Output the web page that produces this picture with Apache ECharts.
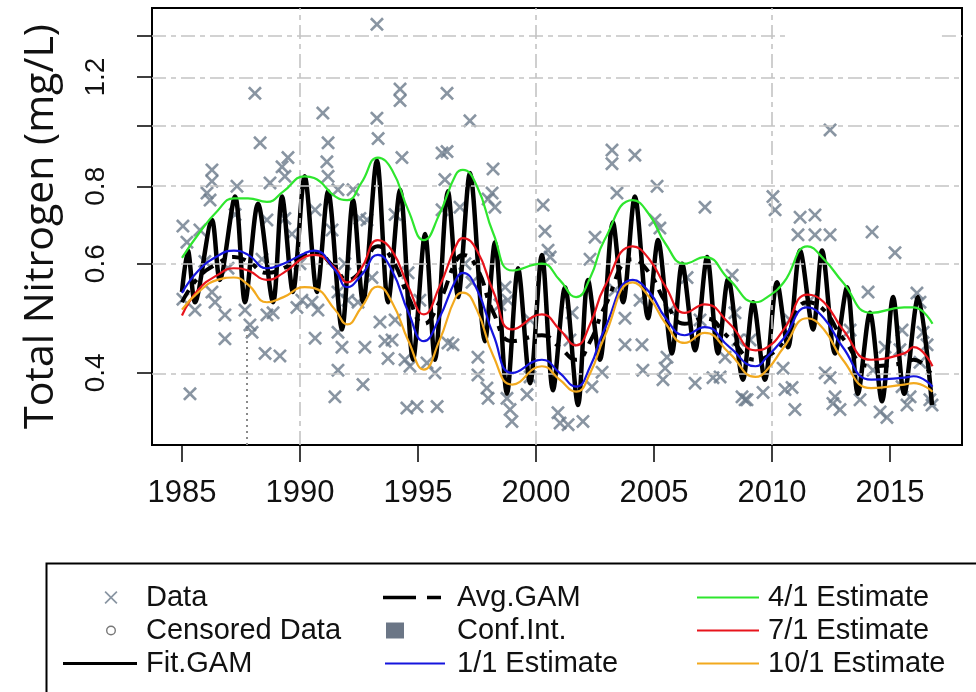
<!DOCTYPE html>
<html>
<head>
<meta charset="utf-8">
<title>Total Nitrogen</title>
<script src="https://cdn.jsdelivr.net/npm/echarts@6/dist/echarts.min.js"></script>
<style>
  html, body { margin: 0; padding: 0; background: #fff; }
  #chart { width: 976px; height: 692px; }
</style>
</head>
<body>
<div id="chart"></div>
<script>
(function (window, echarts) {
    'use strict';

    // axis ranges (year / mg/L)
    var xMin = 1983.73, xMax = 2018.05;
    var yMin = 0.306, yMax = 1.551;
    var xTickYears = [1985, 1990, 1995, 2000, 2005, 2010, 2015];
    var yTickValues = [0.4, 0.6, 0.8, 1.0, 1.2, 1.4];
    var yLabelValues = [0.4, 0.6, 0.8, 1.2];
    var gridYears = [1990, 2000, 2010];
    var gridValues = [0.4, 0.6, 0.8, 1.0, 1.2];

    // observed samples
    var dataYears = [
        1988.09, 1988.31, 1989.49, 1989.24, 1989.36, 1988.73, 1986.27, 1986.27, 1986.06, 1986.19,
        1987.33, 1985.04, 1985.21, 1988.6, 1989.66, 1985.04, 1985.55, 1986.27, 1986.4, 1986.82,
        1986.82, 1987.67, 1987.88, 1987.97, 1988.6, 1988.86, 1989.87, 1988.52, 1989.15, 1985.34,
        1985.76, 1987.25, 1989.36, 1993.26, 1994.24, 1994.24, 1996.23, 1990.97, 1993.26, 1991.19,
        1993.31, 1991.14, 1991.19, 1994.32, 1996.02, 1996.14, 1991.61, 1990.64, 1992.25, 1992.54,
        1992.84, 1994.03, 1996.02, 1991.36, 1990.08, 1990.51, 1990.76, 1991.61, 1992.03, 1992.46,
        1990.64, 1991.61, 1991.78, 1992.75, 1993.39, 1993.6, 1993.9, 1993.73, 1994.03, 1991.61,
        1991.48, 1992.67, 1994.53, 1994.96, 1995.81, 1994.66, 1995.38, 1995.72, 1996.27, 1994.58,
        1994.45, 1997.2, 1996.23, 1998.18, 1998.14, 1997.97, 1998.26, 1996.78, 2000.3, 2000.38,
        2000.51, 2000.6, 2002.5, 2002.29, 1996.48, 1997.54, 1997.54, 1997.92, 1997.97, 1998.77,
        1998.9, 1998.98, 1999.62, 1999.75, 2000.93, 2001.02, 2001.36, 2001.99, 2002.37, 2001.53,
        2002.8, 1997.29, 1998.69, 1998.81, 2003.22, 2003.22, 2004.19, 2003.43, 2005.13, 2005.25,
        2005.04, 2007.16, 2006.4, 2008.31, 2003.77, 2003.77, 2004.49, 2004.53, 2005.55, 2005.47,
        2005.38, 2006.74, 2007.5, 2007.8, 2008.73, 2008.86, 2008.43, 2008.01, 2008.56, 2012.46,
        2010.04, 2010.13, 2011.19, 2011.82, 2011.1, 2011.82, 2012.46, 2014.24, 2015.21, 2014.07,
        2010.47, 2010.55, 2010.85, 2010.97, 2009.62, 2008.94, 2012.25, 2012.46, 2012.67, 2012.58,
        2012.88, 2013.73, 2014.58, 2014.87, 2014.79, 2014.28, 2016.14, 2016.27, 2015.51, 2016.4,
        2016.57, 2015.85, 2016.69, 2015.72, 2016.78, 2015.51, 2016.27, 1985.97, 1986.95, 1988.39,
        1990.0, 1991.9, 1993.05, 1995.08, 1996.99, 1998.47, 1999.75, 2001.44, 2003.35, 2004.41,
        2005.68, 2006.95, 2009.07, 2010.76, 2011.61, 2013.31, 2015.42
    ];
    var dataValues = [
        1.13, 0.94, 0.89, 0.86, 0.83, 0.81, 0.85, 0.815, 0.78, 0.76,
        0.80, 0.69, 0.65, 0.706, 0.67, 0.526, 0.505, 0.54, 0.52, 0.496,
        0.454, 0.505, 0.478, 0.465, 0.496, 0.50, 0.51, 0.43, 0.426, 0.37,
        0.68, 0.72, 0.71, 1.46, 1.148, 1.10, 1.13, 1.05, 1.03, 0.94,
        0.955, 0.876, 0.83, 0.89, 0.905, 0.82, 0.79, 0.733, 0.79, 0.71,
        0.706, 0.72, 0.733, 0.68, 0.524, 0.52, 0.505, 0.54, 0.524, 0.52,
        0.455, 0.465, 0.44, 0.44, 0.483, 0.45, 0.452, 0.422, 0.487, 0.404,
        0.366, 0.383, 0.351, 0.353, 0.353, 0.41, 0.415, 0.40, 0.447, 0.58,
        0.42, 1.02, 0.91, 0.853, 0.78, 0.763, 0.74, 0.74, 0.746, 0.677,
        0.631, 0.615, 0.662, 0.61, 0.444, 0.424, 0.397, 0.378, 0.364, 0.364,
        0.349, 0.334, 0.369, 0.394, 0.345, 0.332, 0.33, 0.334, 0.38, 0.50,
        0.401, 0.56, 0.55, 0.524, 0.915, 0.87, 0.898, 0.78, 0.80, 0.685,
        0.706, 0.74, 0.57, 0.575, 0.49, 0.444, 0.444, 0.404, 0.424, 0.407,
        0.39, 0.385, 0.393, 0.394, 0.366, 0.362, 0.50, 0.424, 0.452, 0.986,
        0.77, 0.733, 0.713, 0.719, 0.668, 0.668, 0.668, 0.675, 0.625, 0.54,
        0.407, 0.376, 0.379, 0.349, 0.372, 0.362, 0.40, 0.393, 0.366, 0.357,
        0.349, 0.362, 0.346, 0.339, 0.44, 0.404, 0.538, 0.52, 0.469, 0.465,
        0.444, 0.366, 0.362, 0.355, 0.355, 0.38, 0.416, 0.605, 0.59, 0.61,
        0.60, 0.60, 0.57, 0.524, 0.60, 0.515, 0.487, 0.452, 0.544, 0.524,
        0.505, 0.487, 0.452, 0.487, 0.524, 0.469, 0.436
    ];

    // seasonal GAM fit (peaks / troughs)
    var fitYears = [
        1985.0, 1985.25, 1985.55, 1986.27, 1986.6, 1987.25, 1987.67, 1988.22, 1988.86, 1989.24,
        1989.7, 1990.2, 1990.72, 1991.19, 1991.78, 1992.25, 1992.67, 1993.26, 1993.73, 1994.24,
        1994.79, 1995.3, 1995.72, 1996.27, 1996.7, 1997.2, 1997.84, 1998.26, 1998.77, 1999.24,
        1999.75, 2000.25, 2000.72, 2001.23, 2001.78, 2002.2, 2002.71, 2003.26, 2003.69, 2004.19,
        2004.75, 2005.17, 2005.76, 2006.19, 2006.74, 2007.25, 2007.71, 2008.14, 2008.77, 2009.2,
        2009.7, 2010.21, 2010.68, 2011.19, 2011.74, 2012.12, 2012.67, 2013.18, 2013.64, 2014.15,
        2014.66, 2015.13, 2015.6, 2016.19, 2016.78
    ];
    var fitValues = [
        0.54, 0.63, 0.52, 0.706, 0.565, 0.77, 0.52, 0.75, 0.52, 0.77,
        0.54, 0.83, 0.54, 0.785, 0.47, 0.76, 0.52, 0.88, 0.52, 0.79,
        0.42, 0.67, 0.42, 0.785, 0.53, 0.84, 0.45, 0.65, 0.37, 0.59,
        0.385, 0.62, 0.375, 0.55, 0.355, 0.565, 0.42, 0.70, 0.52, 0.77,
        0.49, 0.655, 0.43, 0.60, 0.435, 0.615, 0.43, 0.567, 0.39, 0.52,
        0.39, 0.56, 0.44, 0.63, 0.47, 0.63, 0.43, 0.55, 0.37, 0.50,
        0.36, 0.53, 0.37, 0.53, 0.355
    ];

    // smooth curves
    var curveYears = [
        1985.0, 1985.7, 1986.5, 1987.2, 1987.8, 1988.6, 1989.3, 1990.2, 1990.6, 1991.5,
        1992.0, 1992.6, 1993.3, 1993.9, 1994.6, 1995.25, 1995.9, 1996.6, 1996.9, 1997.5,
        1998.2, 1999.0, 2000.25, 2001.0, 2001.7, 2002.3, 2002.9, 2004.1, 2004.8, 2005.5,
        2006.3, 2007.15, 2008.2, 2009.3, 2009.8, 2010.5, 2011.5, 2012.2, 2013.0, 2014.2,
        2015.6, 2016.0, 2016.8
    ];
    var avgGam = [
        0.52, 0.57, 0.60, 0.615, 0.605, 0.58, 0.59, 0.62, 0.625, 0.59,
        0.565, 0.585, 0.64, 0.61, 0.53, 0.48, 0.52, 0.605, 0.62, 0.59,
        0.50, 0.45, 0.46, 0.44, 0.42, 0.45, 0.51, 0.61, 0.58, 0.52,
        0.48, 0.49, 0.455, 0.42, 0.425, 0.45, 0.52, 0.505, 0.455, 0.41,
        0.415, 0.42, 0.395
    ];
    var ciLow = [
        0.50, 0.54, 0.565, 0.575, 0.565, 0.54, 0.55, 0.575, 0.58, 0.55,
        0.525, 0.545, 0.595, 0.565, 0.49, 0.445, 0.48, 0.56, 0.575, 0.545,
        0.46, 0.415, 0.425, 0.405, 0.385, 0.415, 0.47, 0.565, 0.535, 0.48,
        0.445, 0.455, 0.42, 0.39, 0.395, 0.42, 0.48, 0.465, 0.42, 0.38,
        0.385, 0.39, 0.365
    ];
    var ciHigh = [
        0.56, 0.62, 0.655, 0.665, 0.655, 0.63, 0.64, 0.67, 0.67, 0.635,
        0.61, 0.63, 0.69, 0.66, 0.575, 0.52, 0.565, 0.655, 0.67, 0.64,
        0.545, 0.49, 0.50, 0.48, 0.46, 0.49, 0.555, 0.66, 0.63, 0.565,
        0.52, 0.535, 0.495, 0.455, 0.46, 0.49, 0.565, 0.55, 0.495, 0.45,
        0.455, 0.46, 0.435
    ];
    var est11 = [
        0.538, 0.585, 0.617, 0.63, 0.62, 0.59, 0.60, 0.624, 0.63, 0.585,
        0.55, 0.575, 0.62, 0.585, 0.50, 0.45, 0.49, 0.565, 0.58, 0.545,
        0.46, 0.40, 0.42, 0.40, 0.38, 0.41, 0.47, 0.565, 0.54, 0.49,
        0.46, 0.474, 0.44, 0.41, 0.425, 0.455, 0.51, 0.49, 0.44, 0.39,
        0.393, 0.395, 0.38
    ];
    var est41 = [
        0.613, 0.67, 0.73, 0.765, 0.765, 0.755, 0.785, 0.83, 0.825, 0.77,
        0.76, 0.81, 0.89, 0.85, 0.73, 0.655, 0.72, 0.835, 0.85, 0.80,
        0.67, 0.585, 0.60, 0.565, 0.53, 0.57, 0.655, 0.76, 0.72, 0.645,
        0.60, 0.615, 0.565, 0.52, 0.53, 0.56, 0.64, 0.61, 0.56, 0.50,
        0.51, 0.51, 0.48
    ];
    var est71 = [
        0.495, 0.545, 0.575, 0.59, 0.585, 0.565, 0.58, 0.615, 0.62, 0.59,
        0.56, 0.59, 0.655, 0.63, 0.55, 0.497, 0.55, 0.64, 0.66, 0.63,
        0.54, 0.47, 0.497, 0.47, 0.443, 0.48, 0.55, 0.64, 0.61, 0.55,
        0.50, 0.516, 0.48, 0.435, 0.44, 0.47, 0.535, 0.52, 0.47, 0.42,
        0.43, 0.44, 0.41
    ];
    var est101 = [
        0.506, 0.54, 0.565, 0.57, 0.555, 0.52, 0.53, 0.55, 0.548, 0.505,
        0.479, 0.51, 0.551, 0.52, 0.45, 0.405, 0.45, 0.53, 0.539, 0.505,
        0.425, 0.383, 0.41, 0.39, 0.373, 0.40, 0.457, 0.56, 0.53, 0.48,
        0.447, 0.464, 0.43, 0.394, 0.405, 0.44, 0.49, 0.47, 0.42, 0.378,
        0.383, 0.385, 0.373
    ];

    var ln = Math.log;
    var pairs = function (xs, ys) {
        return xs.map(function (x, i) { return [x, ln(ys[i])]; });
    };
    var slate = '#6c7b8b';
    var green = '#2ee62e', red = '#e8141c', blue = '#1515dd', orange = '#f2a91e';
    var labelFont = 'Liberation Sans, Arial, sans-serif';

    var crossSymbol = 'path://M0,1.6L1.6,0L6,4.4L10.4,0L12,1.6L7.6,6L12,10.4L10.4,12L6,7.6L1.6,12L0,10.4L4.4,6Z';
    // legend icons; the leading moves pin the icon box so shapes keep their place in it
    var crossIcon = 'path://M0,0M78,16M41.5,2.7L42.7,1.5L48,6.8L53.3,1.5L54.5,2.7L49.2,8L54.5,13.3L53.3,14.5L48,9.2L42.7,14.5L41.5,13.3L46.8,8Z';
    var ringIcon = 'path://M0,0M78,16M43,8A5,5,0,1,1,53,8A5,5,0,1,1,43,8ZM44.4,8A3.6,3.6,0,1,0,51.6,8A3.6,3.6,0,1,0,44.4,8Z';
    var fitIcon = 'path://M0,0M78,16M0,6.5L74,6.5L74,9.5L0,9.5Z';
    var avgIcon = 'path://M0,0M69,16M0,6.3L33,6.3L33,9.7L0,9.7ZM44,6.3L58,6.3L58,9.7L44,9.7Z';
    var squareIcon = 'path://M0,0M69,16M3,0L21,0L21,16L3,16Z';
    var col2LineIcon = 'path://M0,0M69,16M2,7L62,7L62,9L2,9Z';
    var col3LineIcon = 'path://M0,0M66,16M0,7L62,7L62,9L0,9Z';

    var gridStyle = { color: '#c4c4c4', width: 1.6, type: [14, 5, 5, 5] };
    var refLines = gridYears.map(function (t) { return { xAxis: t }; })
        .concat(gridValues.map(function (v) { return { yAxis: ln(v) }; }))
        .concat([
            [{ coord: [xMin, ln(1.4)] }, { coord: [2010.55, ln(1.4)] }],
            [{ coord: [2017.2, ln(1.4)] }, { coord: [xMax, ln(1.4)] }],
            [{ coord: [1987.75, ln(yMin)], lineStyle: { color: '#8a8a8a', width: 2, type: [2, 4] } },
             { coord: [1987.75, ln(0.47)] }]
        ]);

    var legendText = { fontFamily: labelFont, fontSize: 29, color: '#111', lineHeight: 33 };
    var legendBase = function (left, itemWidth, data) {
        return {
            orient: 'vertical', left: left, top: 581, padding: 0,
            itemWidth: itemWidth, itemHeight: 16, itemGap: 0,
            selectedMode: false, textStyle: legendText, data: data
        };
    };

    var line = function (name, values, color, width, z, extra) {
        var s = {
            name: name, type: 'line', data: pairs(curveYears, values),
            smooth: 0.5, symbol: 'none', z: z,
            lineStyle: { color: color, width: width },
            itemStyle: { color: color }
        };
        return Object.assign(s, extra || {});
    };

    var chart = echarts.init(document.getElementById('chart'));
    chart.setOption({
        animation: false,
        backgroundColor: '#fff',
        grid: {
            left: 152, right: 14, top: 8, bottom: 247,
            show: true, borderColor: '#000', borderWidth: 2
        },
        xAxis: {
            type: 'value', min: xMin, max: xMax,
            axisLine: { show: false, onZero: false },
            splitLine: { show: false },
            axisTick: { show: true, length: 17, lineStyle: { color: '#000', width: 1.5 }, customValues: xTickYears },
            axisLabel: {
                customValues: xTickYears, margin: 33, fontSize: 31, fontFamily: labelFont, color: '#111',
                formatter: function (v) { return String(Math.round(v)); }
            }
        },
        yAxis: {
            type: 'value', min: ln(yMin), max: ln(yMax),
            name: 'Total Nitrogen (mg/L)', nameLocation: 'middle', nameGap: 90,
            nameTextStyle: { fontSize: 41, fontFamily: 'Open Sans, sans-serif', color: '#111' },
            axisLine: { show: false, onZero: false },
            splitLine: { show: false },
            axisTick: { show: true, length: 15, lineStyle: { color: '#000', width: 1.5 }, customValues: yTickValues.map(ln) },
            axisLabel: {
                customValues: yLabelValues.map(ln), rotate: 90, margin: 42,
                fontSize: 28, fontFamily: labelFont, color: '#111',
                formatter: function (v) { return Math.exp(v).toFixed(1); }
            }
        },
        legend: [
            legendBase(63, 78, [
                { name: 'Data', icon: crossIcon, itemStyle: { color: slate } },
                { name: 'Censored Data', icon: ringIcon, itemStyle: { color: '#555' } },
                { name: 'Fit.GAM', icon: fitIcon, itemStyle: { color: '#000' } }
            ]),
            legendBase(383, 69, [
                { name: 'Avg.GAM', icon: avgIcon, itemStyle: { color: '#000' } },
                { name: 'Conf.Int.', icon: squareIcon, itemStyle: { color: '#6b7686' } },
                { name: '1/1 Estimate', icon: col2LineIcon, itemStyle: { color: blue } }
            ]),
            legendBase(697, 66, [
                { name: '4/1 Estimate', icon: col3LineIcon, itemStyle: { color: green } },
                { name: '7/1 Estimate', icon: col3LineIcon, itemStyle: { color: red } },
                { name: '10/1 Estimate', icon: col3LineIcon, itemStyle: { color: orange } }
            ])
        ],
        graphic: [{
            type: 'rect', left: 44, top: 561, silent: true,
            shape: { width: 960, height: 150 },
            style: { fill: 'none', stroke: '#000', lineWidth: 2 }
        }],
        series: [
            {
                name: 'gridRef', type: 'line', z: 1, silent: true,
                data: [[2000, ln(0.5)]], symbol: 'none', lineStyle: { width: 0 },
                markLine: {
                    silent: true, symbol: ['none', 'none'], label: { show: false },
                    lineStyle: gridStyle, data: refLines
                }
            },
            line('ciLow', ciLow, 'rgba(0,0,0,0)', 0, 2, { stack: 'ci' }),
            {
                name: 'Conf.Int.', type: 'line', stack: 'ci', smooth: 0.5, symbol: 'none', z: 2,
                data: curveYears.map(function (t, i) { return [t, ln(ciHigh[i]) - ln(ciLow[i])]; }),
                lineStyle: { width: 0 },
                itemStyle: { color: '#6b7686' },
                areaStyle: { color: 'rgba(150,155,165,0.55)' }
            },
            {
                name: 'Data', type: 'scatter', z: 3,
                data: pairs(dataYears, dataValues),
                symbol: crossSymbol, symbolSize: 14,
                itemStyle: { color: slate }
            },
            {
                name: 'Censored Data', type: 'scatter', z: 3, data: [],
                symbol: 'emptyCircle', itemStyle: { color: '#555' }
            },
            {
                name: 'Fit.GAM', type: 'line', z: 4,
                data: pairs(fitYears, fitValues),
                smooth: 0.3, symbol: 'none',
                lineStyle: { color: '#000', width: 4.5 },
                itemStyle: { color: '#000' }
            },
            line('Avg.GAM', avgGam, '#000', 4, 5, { lineStyle: { color: '#000', width: 4, type: [14, 8, 5, 8] } }),
            line('4/1 Estimate', est41, green, 2.2, 6),
            line('7/1 Estimate', est71, red, 2.2, 6),
            line('1/1 Estimate', est11, blue, 2.2, 6),
            line('10/1 Estimate', est101, orange, 2.2, 6)
        ]
    });
})(window, window.echarts);
</script>
</body>
</html>
